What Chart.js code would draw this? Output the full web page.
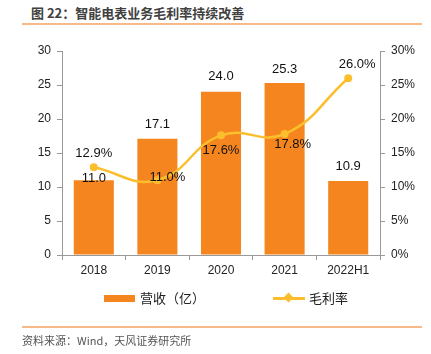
<!DOCTYPE html>
<html><head><meta charset="utf-8">
<script src="https://cdn.jsdelivr.net/npm/chart.js@4"></script>
<style>
html,body{margin:0;padding:0;background:#fff;}
#wrap{position:relative;width:431px;height:354px;overflow:hidden;font-family:"Noto Sans CJK SC","Liberation Sans",sans-serif;}
#title{position:absolute;left:31px;top:3px;font-size:13px;font-weight:bold;color:#404040;white-space:nowrap;}
#topline{position:absolute;left:22px;top:23px;width:400px;height:2px;background:#F8B98A;}
#botline{position:absolute;left:22px;top:326px;width:400px;height:2px;background:#F8B98A;}
#src{position:absolute;left:22px;top:332px;font-size:11px;color:#555;white-space:nowrap;}
#c{position:absolute;left:0;top:0;}
.lg{position:absolute;top:288px;font-size:13px;color:#222;white-space:nowrap;}
#sw1{position:absolute;left:104px;top:295px;width:31px;height:7px;background:#F5861F;}
#sw2{position:absolute;left:273px;top:297px;width:32px;height:3px;background:#FBBF2D;}
#dm{position:absolute;left:285px;top:294px;width:7px;height:7px;background:#FBBF2D;transform:rotate(45deg);}
</style></head>
<body><div id="wrap">
<div id="title">图 22：智能电表业务毛利率持续改善</div>
<div id="topline"></div>
<canvas id="c" width="431" height="354"></canvas>
<div id="sw1"></div><div class="lg" style="left:140px">营收（亿）</div>
<div id="sw2"></div><div id="dm"></div><div class="lg" style="left:309px">毛利率</div>
<div id="botline"></div>
<div id="src">资料来源：Wind，天风证券研究所</div>
</div>
<script>
const categories = ['2018','2019','2020','2021','2022H1'];
const revenue = [11.0, 17.1, 24.0, 25.3, 10.9];
const grossMargin = [12.9, 11.0, 17.6, 17.8, 26.0];
const leftTicks = [0,5,10,15,20,25,30];
const rightTicks = [0,5,10,15,20,25,30];

const barLabelOffsets = [[0,-2],[0,-14],[0,-15],[0,-14],[0,-14]];
const lineLabelOffsets = [[0,-14],[10,-3],[0,15],[8,10],[9,-14]];

const labelPlugin = {
  id:'labels',
  afterDatasetsDraw(chart){
    const ctx = chart.ctx;
    ctx.save();
    ctx.font = '13px "Liberation Sans", Arial, sans-serif';
    ctx.fillStyle = '#111';
    ctx.textAlign = 'center';
    ctx.textBaseline = 'middle';
    chart.getDatasetMeta(0).data.forEach((el,i)=>{
      const o = barLabelOffsets[i];
      ctx.fillText(revenue[i].toFixed(1), el.x+o[0], el.y+o[1]);
    });
    chart.getDatasetMeta(1).data.forEach((el,i)=>{
      const o = lineLabelOffsets[i];
      ctx.fillText(grossMargin[i].toFixed(1)+'%', el.x+o[0], el.y+o[1]);
    });
    ctx.restore();
  }
};

const tickFont = {family:'"Liberation Sans", Arial, sans-serif', size:12};
new Chart(document.getElementById('c'), {
  data:{
    labels:categories,
    datasets:[
      {type:'bar', data:revenue, backgroundColor:'#F5861F', yAxisID:'y', categoryPercentage:0.63, barPercentage:1.0, order:2},
      {type:'line', data:grossMargin, borderColor:'#FBBF2D', backgroundColor:'#FBBF2D', borderWidth:2.5, tension:0.45,
       pointStyle:'circle', pointRadius:4, pointBorderWidth:0, yAxisID:'y1', order:1}
    ]
  },
  options:{
    responsive:false, animation:false, devicePixelRatio:1,
    layout:{padding:{top:51,bottom:69,left:0,right:0}},
    plugins:{legend:{display:false}, tooltip:{enabled:false}},
    scales:{
      x:{
        offset:true,
        grid:{display:true, drawOnChartArea:false, drawTicks:true, tickLength:5, color:'#999', offset:true},
        border:{display:true, color:'#999'},
        ticks:{color:'#222', font:tickFont, padding:3, maxRotation:0},
        afterFit(s){ s.height = 30; }
      },
      y:{
        position:'left', min:0, max:30,
        afterBuildTicks(s){ s.ticks = leftTicks.map(v=>({value:v})); },
        grid:{display:true, drawOnChartArea:false, drawTicks:true, tickLength:5, color:'#999'},
        border:{display:true, color:'#999'},
        ticks:{color:'#222', font:tickFont, padding:6},
        afterFit(s){ s.width = 62; }
      },
      y1:{
        position:'right', min:0, max:30,
        afterBuildTicks(s){ s.ticks = rightTicks.map(v=>({value:v})); },
        grid:{display:true, drawOnChartArea:false, drawTicks:true, tickLength:5, color:'#999'},
        border:{display:true, color:'#999'},
        ticks:{color:'#222', font:tickFont, padding:6, callback:v=>v+'%'},
        afterFit(s){ s.width = 51; }
      }
    }
  },
  plugins:[labelPlugin]
});
</script>
</body></html>
